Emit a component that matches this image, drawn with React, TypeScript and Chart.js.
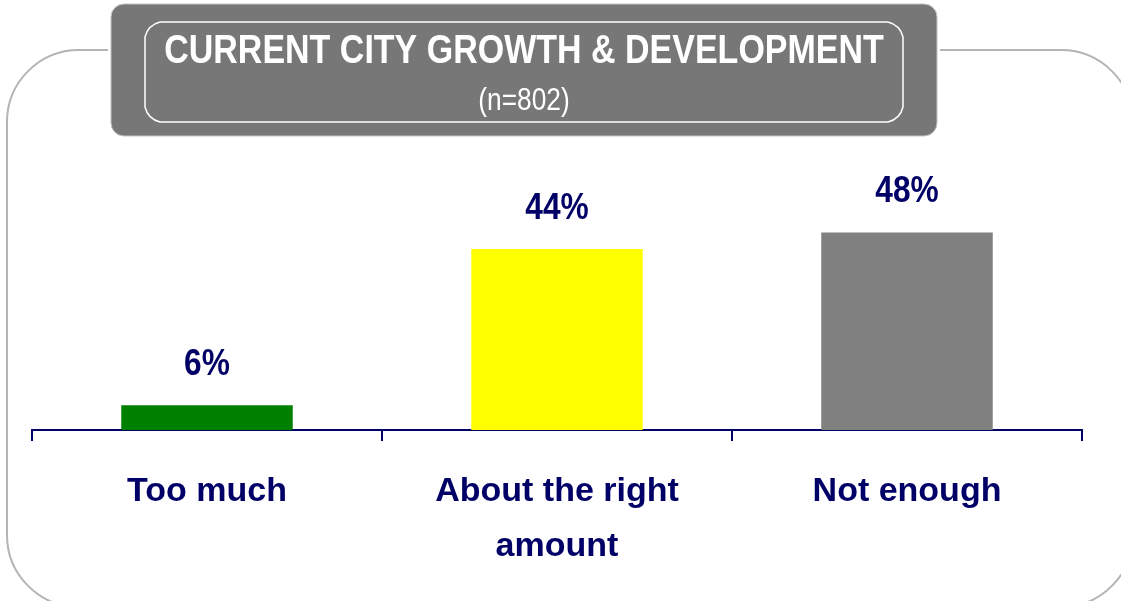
import React, { useEffect, useRef } from "react";
import { Chart, registerables } from "chart.js";

Chart.register(...registerables);

const categories: string[][] = [["Too much"], ["About the right", "amount"], ["Not enough"]];
const values: number[] = [6, 44, 48];
const barColors: string[] = ["#008000", "#ffff00", "#808080"];
const valueLabels: string[] = values.map((v) => `${v}%`);
const titleText = "CURRENT CITY GROWTH & DEVELOPMENT";
const subtitleText = "(n=802)";

const NAVY = "#000066";
const FONT = "Arial, 'Liberation Sans', Helvetica, sans-serif";

function arcRectPath(ctx: CanvasRenderingContext2D, x: number, y: number, w: number, h: number, r: number) {
  ctx.beginPath();
  ctx.moveTo(x + r, y);
  ctx.lineTo(x + w - r, y);
  ctx.arcTo(x + w, y, x + w, y + r, r);
  ctx.lineTo(x + w, y + h - r);
  ctx.arcTo(x + w, y + h, x + w - r, y + h, r);
  ctx.lineTo(x + r, y + h);
  ctx.arcTo(x, y + h, x, y + h - r, r);
  ctx.lineTo(x, y + r);
  ctx.arcTo(x, y, x + r, y, r);
  ctx.closePath();
}

function chamferPath(ctx: CanvasRenderingContext2D, x: number, y: number, w: number, h: number, c: number) {
  ctx.beginPath();
  ctx.moveTo(x + c, y);
  ctx.lineTo(x + w - c, y);
  ctx.quadraticCurveTo(x + w - 3, y + 3, x + w, y + c);
  ctx.lineTo(x + w, y + h - c);
  ctx.quadraticCurveTo(x + w - 3, y + h - 3, x + w - c, y + h);
  ctx.lineTo(x + c, y + h);
  ctx.quadraticCurveTo(x + 3, y + h - 3, x, y + h - c);
  ctx.lineTo(x, y + c);
  ctx.quadraticCurveTo(x + 3, y + 3, x + c, y);
  ctx.closePath();
}

const framePlugin = {
  id: "frameAndTitle",
  beforeDraw(chart: any) {
    const ctx: CanvasRenderingContext2D = chart.ctx;
    ctx.save();
    // outer frame
    ctx.strokeStyle = "#b4b4b4";
    ctx.lineWidth = 2;
    arcRectPath(ctx, 7, 50, 1126, 557, 72);
    ctx.stroke();
    // gap around title box
    ctx.fillStyle = "#ffffff";
    ctx.fillRect(108, 40, 832, 20);
    // title box
    ctx.fillStyle = "#777777";
    arcRectPath(ctx, 111, 4, 826, 132, 13);
    ctx.fill();
    ctx.strokeStyle = "#c4c4c4";
    ctx.lineWidth = 1;
    ctx.stroke();
    // inner white outline
    ctx.strokeStyle = "#ffffff";
    ctx.lineWidth = 1.5;
    chamferPath(ctx, 145, 22, 758, 100, 15);
    ctx.stroke();
    // title texts (condensed)
    ctx.fillStyle = "#ffffff";
    ctx.textAlign = "center";
    ctx.textBaseline = "alphabetic";
    ctx.save();
    ctx.translate(524, 63);
    ctx.scale(0.85, 1);
    ctx.font = `bold 40px ${FONT}`;
    ctx.fillText(titleText, 0, 0);
    ctx.restore();
    ctx.save();
    ctx.translate(524, 110);
    ctx.scale(0.85, 1);
    ctx.font = `31px ${FONT}`;
    ctx.fillText(subtitleText, 0, 0);
    ctx.restore();
    ctx.restore();
  },
  afterDatasetsDraw(chart: any) {
    const ctx: CanvasRenderingContext2D = chart.ctx;
    const meta = chart.getDatasetMeta(0);
    ctx.save();
    ctx.fillStyle = NAVY;
    ctx.textAlign = "center";
    ctx.textBaseline = "middle";
    meta.data.forEach((bar: any, i: number) => {
      ctx.save();
      ctx.translate(bar.x, bar.y - 40);
      ctx.scale(0.88, 1);
      ctx.font = `bold 36px ${FONT}`;
      ctx.fillText(valueLabels[i], 0, 0);
      ctx.restore();
    });
    ctx.restore();
  },
};

export default function App() {
  const canvasRef = useRef<HTMLCanvasElement | null>(null);

  useEffect(() => {
    if (!canvasRef.current) return;
    const chart = new Chart(canvasRef.current, {
      type: "bar",
      data: {
        labels: categories,
        datasets: [
          {
            data: values,
            backgroundColor: barColors,
            borderWidth: 0,
            barPercentage: 0.49,
            categoryPercentage: 1,
          },
        ],
      },
      options: {
        animation: false,
        responsive: true,
        maintainAspectRatio: false,
        layout: { padding: { top: 140, left: 32, right: 39, bottom: 0 } },
        plugins: {
          legend: { display: false },
          title: { display: false },
          tooltip: { enabled: false },
        },
        scales: {
          x: {
            grid: {
              display: true,
              drawOnChartArea: false,
              drawTicks: true,
              tickLength: 11,
              color: NAVY,
              lineWidth: 2,
              offset: true,
            },
            border: { display: true, color: NAVY, width: 2 },
            ticks: {
              color: NAVY,
              padding: 23,
              autoSkip: false,
              maxRotation: 0,
              font: { family: FONT, size: 34, weight: "bold", lineHeight: 1.62 },
            },
            afterFit: (scale: any) => {
              scale.height = 171;
            },
          },
          y: { display: false, min: 0, max: 70.5 },
        },
      },
      plugins: [framePlugin],
    });
    return () => chart.destroy();
  }, []);

  return (
    <div style={{ position: "absolute", left: 0, top: 0, width: 1121, height: 601, background: "#ffffff" }}>
      <canvas ref={canvasRef} />
    </div>
  );
}
